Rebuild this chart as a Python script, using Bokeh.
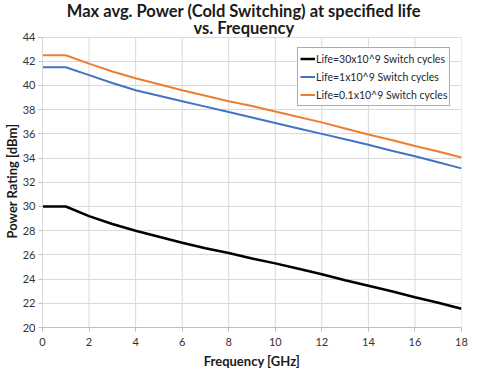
from bokeh.plotting import figure
from bokeh.models import Label, Legend, LegendItem, FixedTicker, Range1d, Title
from bokeh.embed import file_html
from bokeh.resources import INLINE

freq = [0, 1, 2, 3, 4, 5, 6, 7, 8, 9, 10, 11, 12, 13, 14, 15, 16, 17, 18]
life_30e9 = [30.0, 30.0, 29.2, 28.55, 28.0, 27.5, 27.0, 26.55, 26.15, 25.7, 25.3,
             24.85, 24.4, 23.9, 23.45, 23.0, 22.5, 22.05, 21.55]
life_1e9 = [41.5, 41.5, 40.85, 40.2, 39.6, 39.15, 38.7, 38.25, 37.8, 37.35, 36.9,
            36.45, 36.0, 35.55, 35.1, 34.6, 34.15, 33.65, 33.15]
life_01e9 = [42.5, 42.5, 41.8, 41.15, 40.6, 40.1, 39.6, 39.15, 38.7, 38.3, 37.85,
             37.4, 36.95, 36.45, 35.95, 35.5, 35.0, 34.55, 34.05]
labels = ["Life=30x10^9 Switch cycles", "Life=1x10^9 Switch cycles", "Life=0.1x10^9 Switch cycles"]
title_lines = ["Max avg. Power (Cold Switching) at specified life", "vs. Frequency"]
x_ticks = list(range(0, 19, 2))
y_ticks = list(range(20, 45, 2))

FONT = "Lato"
Y_MIN, Y_MAX = y_ticks[0], y_ticks[-1]
# extra head-room above the plotted area is where the title sits
Y_TOP = Y_MAX + 3.02

p = figure(width=479, height=376, output_backend="svg", toolbar_location=None,
           x_range=Range1d(x_ticks[0], x_ticks[-1]), y_range=Range1d(Y_MIN, Y_TOP), title=None,
           min_border_left=42, min_border_right=18, min_border_top=0, min_border_bottom=49)
p.outline_line_color = None
p.background_fill_color = "white"
p.border_fill_color = "white"

# two-line title
for txt, ty in zip(title_lines, [Y_MAX + 2.12, Y_MAX + 0.78]):
    p.add_layout(Label(x=8.65, y=ty, text=txt, text_align="center", text_baseline="alphabetic",
                       text_font=FONT, text_font_size="16.5px", text_font_style="bold",
                       text_color="#1a1a1a"))

# vertical gridlines limited to the plotted area
p.xgrid.visible = False
p.segment(x0=x_ticks, x1=x_ticks, y0=[Y_MIN] * len(x_ticks), y1=[Y_MAX] * len(x_ticks),
          line_color="#d9d9d9", line_width=1)

colors = ["#000000", "#4472C4", "#ED7D31"]
widths = [2.5, 2, 2]
renderers = []
for ys, c, w in zip([life_30e9, life_1e9, life_01e9], colors, widths):
    r = p.line(freq, ys, line_color=c, line_width=w)
    renderers.append(r)

p.xaxis.ticker = FixedTicker(ticks=x_ticks)
p.yaxis.ticker = FixedTicker(ticks=y_ticks)
p.ygrid.ticker = FixedTicker(ticks=y_ticks)
p.ygrid.grid_line_color = "#d9d9d9"
p.ygrid.grid_line_width = 1
p.yaxis.bounds = (Y_MIN, Y_MAX)

for ax in (p.xaxis, p.yaxis):
    ax.major_tick_in = 0
    ax.major_tick_out = 4
    ax.minor_tick_out = 0
    ax.minor_tick_in = 0
    ax.major_tick_line_color = "#bfbfbf"
    ax.major_label_text_font = FONT
    ax.major_label_text_font_size = "11px"
    ax.major_label_text_color = "#333333"
    ax.axis_label_text_font = FONT
    ax.axis_label_text_font_size = "13px"
    ax.axis_label_text_font_style = "bold"
    ax.axis_label_text_color = "#1a1a1a"

p.xaxis.axis_line_color = "#bfbfbf"
p.yaxis.axis_line_color = "#d9d9d9"
p.xaxis.axis_label = "Frequency [GHz]"
p.xaxis.major_label_standoff = 6
p.xaxis.axis_label_standoff = 4
p.yaxis.major_label_standoff = 3

# y-axis title, centred on the plotted (20..44) part of the frame
p.add_layout(Title(text="Power Rating [dBm]", align="left", offset=89, standoff=0,
                   text_font=FONT, text_font_size="13px", text_font_style="bold",
                   text_color="#1a1a1a"), "left")

legend = Legend(items=[LegendItem(label=l, renderers=[r]) for l, r in zip(labels, renderers)],
                location=(255, 221), padding=2, spacing=1,
                glyph_width=15, glyph_height=17, label_height=17, label_standoff=1,
                label_text_font=FONT, label_text_font_size="10.5px", label_text_color="#262626",
                border_line_color="#595959", border_line_width=1.5,
                background_fill_color="white", background_fill_alpha=1)
p.add_layout(legend, "center")

open("out.html", "w").write(file_html(p, INLINE))
